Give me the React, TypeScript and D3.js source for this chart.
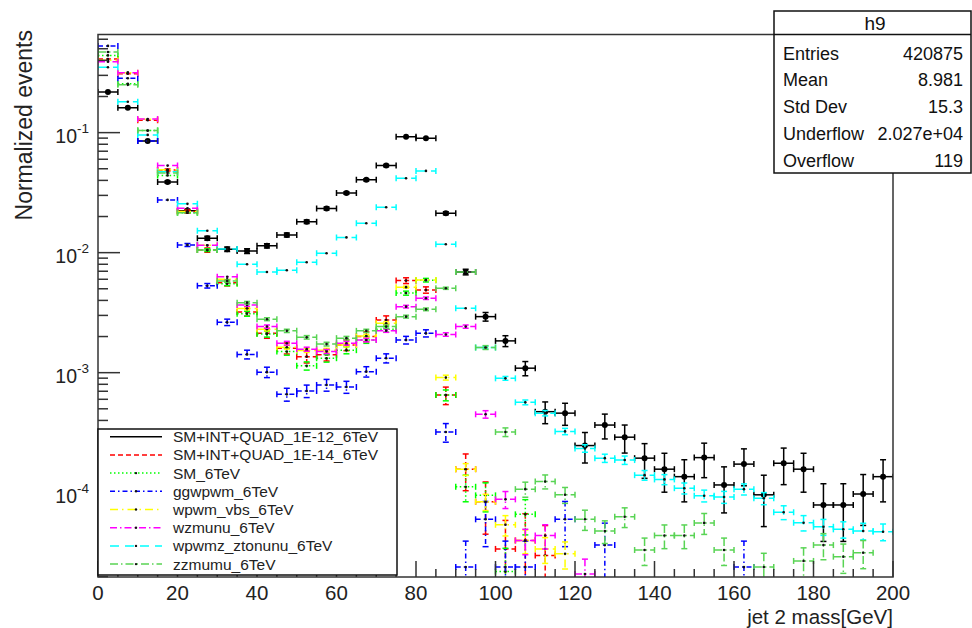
import React from 'react';
import * as d3 from 'd3';

const W = 972;
const H = 628;

// 40 bins of 5 GeV, 0..200
const binCount = 40;
const binWidth = 5;
const binCenters = Array.from({ length: binCount }, (_, i) => binWidth * i + binWidth / 2);

const xTicks = [0, 20, 40, 60, 80, 100, 120, 140, 160, 180, 200];
const yDecades = [-4, -3, -2, -1];

const quad1e12 = [0.218, 0.161, 0.0853, 0.0388, 0.0223, 0.0132, 0.01066, 0.0103, 0.0114, 0.01404, 0.0181, 0.0233, 0.0314, 0.0404, 0.0531, 0.0926, 0.0898, 0.0213, 0.0069, 0.00293, 0.00184, 0.00109, 4.73e-4, 4.6e-4, 2.47e-4, 3.66e-4, 2.9e-4, 1.94e-4, 1.57e-4, 1.36e-4, 1.96e-4, 1.16e-4, 1.73e-4, 9.6e-5, 1.76e-4, 1.57e-4, 7.9e-5, 7.9e-5, 9.75e-5, 1.36e-4];
const quad1e14 = [0.41, 0.31, 0.127, 0.0489, 0.022, 0.0105, 0.0056, 0.0032, 0.00213, 0.0016, 0.00136, 0.00141, 0.0017, 0.002, 0.00275, 0.00585, 0.00489, 6.5e-4, 1.57e-4, 8.4e-5, 3.4e-5, 4.0e-5, 3.0e-5, null, null, null, null, null, null, null, null, null, null, null, null, null, null, null, null, null];
const sm6 = [0.44, 0.255, 0.104, 0.044, 0.0215, 0.0105, 0.0055, 0.0031, 0.0021, 0.0015, 0.00114, 0.00132, 0.00154, 0.00187, 0.0023, 0.0046, 0.0059, 6.5e-4, 1.12e-4, 9.5e-5, 2.2e-5, 6.6e-5, null, null, null, null, null, null, null, null, null, null, null, null, null, null, null, null, null, null];
const ggwpwm = [0.528, 0.284, 0.085, 0.0275, 0.0116, 0.0053, 0.00263, 0.00142, 0.00101, 6.6e-4, 7.04e-4, 7.9e-4, 7.6e-4, 1.02e-3, 1.32e-3, 1.87e-3, 2.13e-3, 3.2e-4, 2.4e-5, 6.0e-5, 2.4e-5, 2.4e-5, null, 6.0e-5, null, 3.66e-5, null, null, null, null, null, null, 2.4e-5, null, null, null, null, null, null, null];
const wpwmVbs = [0.40, 0.316, 0.129, 0.049, 0.022, 0.0115, 0.006, 0.00343, 0.0023, 0.00163, 0.00153, 0.00154, 0.0017, 0.00202, 0.00258, 0.00516, 0.00592, 9.1e-4, 1.57e-4, 8.4e-5, 5.4e-5, 4.0e-5, 3.4e-5, 3.1e-5, null, null, null, null, null, null, null, null, null, null, null, null, null, null, null, null];
const wzmunu = [0.39, 0.316, 0.13, 0.0531, 0.0234, 0.0115, 0.0063, 0.00366, 0.00242, 0.00176, 0.00157, 0.0015, 0.00176, 0.00187, 0.00224, 0.00355, 0.00417, 0.00208, 0.00242, 4.5e-4, 8.8e-5, 4.0e-5, 4.4e-5, null, 2.1e-5, null, null, null, null, null, null, null, null, null, null, null, null, null, null, null];
const wpwmzZtonunu = [0.351, 0.181, 0.0957, 0.0473, 0.0255, 0.0152, 0.0107, 0.008, 0.0069, 0.00713, 0.00832, 0.00989, 0.0134, 0.0176, 0.0239, 0.0417, 0.048, 0.01175, 0.00344, 0.00162, 8.97e-4, 5.66e-4, 4.6e-4, 3.24e-4, 2.34e-4, 1.94e-4, 1.87e-4, 1.4e-4, 1.29e-4, 1.09e-4, 9.44e-5, 9.2e-5, 1.07e-4, 8.98e-5, 6.87e-5, 5.62e-5, 5.2e-5, 4.95e-5, 4.8e-5, 4.73e-5];
const zzmumu = [0.47, 0.25, 0.104, 0.046, 0.0215, 0.0105, 0.0058, 0.00383, 0.00279, 0.00223, 0.00197, 0.00173, 0.00194, 0.00223, 0.00242, 0.00293, 0.00337, 0.00505, 0.0069, 0.00162, 3.2e-4, 1.07e-4, 1.24e-4, 9.6e-5, 6.0e-5, 4.8e-5, 6.3e-5, 3.33e-5, 4.4e-5, 4.4e-5, 5.6e-5, 3.33e-5, null, 2.4e-5, null, 2.7e-5, 3.66e-5, 2.93e-5, 3.16e-5, null];

// per-entry weight of each normalized sample (error = sqrt(value * weight))
const entryWeights = [2e-5, 1.8e-5, 7e-6, 1e-5, 2e-6, 2.3e-6, 1.2e-6, 2.2e-6];

const seriesNames = ['SM+INT+QUAD_1E-12_6TeV', 'SM+INT+QUAD_1E-14_6TeV', 'SM_6TeV', 'ggwpwm_6TeV', 'wpwm_vbs_6TeV', 'wzmunu_6TeV', 'wpwmz_ztonunu_6TeV', 'zzmumu_6TeV'];
const seriesValues = [quad1e12, quad1e14, sm6, ggwpwm, wpwmVbs, wzmunu, wpwmzZtonunu, zzmumu];
const seriesColors = ['#000000', '#ff0000', '#00ff00', '#0000ff', '#ffff00', '#ff00ff', '#00ffff', '#59d454'];
const seriesDash = ['', '5,3', '1.5,2.5', '5,3,1.5,3', '8,4,1.5,4', '7,3,1.5,3', '9,6', '8,3,1.5,3'];

const statsLabels = ['Entries', 'Mean', 'Std Dev', 'Underflow', 'Overflow'];
const statsValues = ['420875', '8.981', '15.3', '2.027e+04', '119'];

const frame = { left: 98, right: 893, top: 34.5, bottom: 577 };

export default function App() {
  const x = d3.scaleLinear().domain([0, 200]).range([frame.left, frame.right]);
  const y = d3.scaleLog().domain([1.984e-5, 0.657]).range([frame.bottom, frame.top]);

  const minorY: number[] = [];
  for (let e = -5; e <= 0; e++) {
    for (let k = 2; k <= 9; k++) {
      const v = k * Math.pow(10, e);
      if (v > y.domain()[0] && v < y.domain()[1]) minorY.push(v);
    }
  }
  const minorX = d3.range(0, 201, 5).filter((v) => v % 20 !== 0);

  const font = 'Liberation Sans, Arial, Helvetica, sans-serif';
  const cap = 3;

  const marks = seriesValues.map((vals, si) => {
    const color = seriesColors[si];
    const dash = seriesDash[si] || undefined;
    const w = entryWeights[si];
    const els: React.ReactNode[] = [];
    vals.forEach((v, i) => {
      if (v == null) return;
      const c = binCenters[i];
      const x0 = x(c - binWidth / 2);
      const x1 = x(c + binWidth / 2);
      const xc = x(c);
      const yc = y(v);
      const err = Math.sqrt(v * w);
      const yHi = y(v + err);
      const lo = v - err;
      const yLo = lo > 0 ? y(lo) : frame.bottom + 10;
      const k = `${si}-${i}`;
      els.push(
        <g key={k} stroke={color} strokeWidth={1.5} strokeDasharray={dash} fill="none">
          <line x1={x0} x2={x1} y1={yc} y2={yc} />
          <line x1={x0} x2={x0} y1={yc - cap} y2={yc + cap} strokeDasharray="none" />
          <line x1={x1} x2={x1} y1={yc - cap} y2={yc + cap} strokeDasharray="none" />
          {Math.abs(yLo - yHi) > 2 && (
            <>
              <line x1={xc} x2={xc} y1={yHi} y2={yLo} />
              <line x1={xc - cap} x2={xc + cap} y1={yHi} y2={yHi} strokeDasharray="none" />
              {lo > 0 && <line x1={xc - cap} x2={xc + cap} y1={yLo} y2={yLo} strokeDasharray="none" />}
            </>
          )}
          {si === 0 ? (
            <circle cx={xc} cy={yc} r={3} fill="#000" stroke="none" />
          ) : (
            <circle cx={xc} cy={yc} r={1.3} fill="#111" stroke="none" />
          )}
        </g>
      );
    });
    return <g key={si}>{els}</g>;
  });

  const legend = { left: 98, top: 429, right: 397, bottom: 575 };
  const legendRow0 = 436.7;
  const legendStep = 18.2;

  return (
    <svg width={W} height={H} style={{ position: 'absolute', left: 0, top: 0, background: '#fff' }} fontFamily={font}>
      <rect x={0} y={0} width={W} height={H} fill="#fff" />
      <defs>
        <clipPath id="plotclip">
          <rect x={frame.left} y={frame.top} width={frame.right - frame.left} height={frame.bottom - frame.top} />
        </clipPath>
      </defs>

      <g clipPath="url(#plotclip)">{marks}</g>

      {/* frame */}
      <rect x={frame.left} y={frame.top} width={frame.right - frame.left} height={frame.bottom - frame.top} fill="none" stroke="#333" strokeWidth={1.5} />

      {/* y axis ticks */}
      {yDecades.map((e) => {
        const yy = y(Math.pow(10, e));
        return (
          <g key={`yd${e}`}>
            <line x1={frame.left} x2={frame.left + 22} y1={yy} y2={yy} stroke="#333" strokeWidth={1.5} />
            <text x={89} y={yy + 10.6} fontSize={19.5} textAnchor="end" fill="#222">
              10
              <tspan fontSize={13.5} dy={-10}>{`-${-e}`}</tspan>
            </text>
          </g>
        );
      })}
      {minorY.map((v, i) => (
        <line key={`ym${i}`} x1={frame.left} x2={frame.left + 10} y1={y(v)} y2={y(v)} stroke="#333" strokeWidth={1.5} />
      ))}

      {/* x axis ticks */}
      {xTicks.map((t) => (
        <g key={`xt${t}`}>
          <line x1={x(t)} x2={x(t)} y1={frame.bottom} y2={frame.bottom - 16} stroke="#333" strokeWidth={1.5} />
          <text x={x(t)} y={599.5} fontSize={20.5} textAnchor="middle" fill="#222">{t}</text>
        </g>
      ))}
      {minorX.map((t) => (
        <line key={`xm${t}`} x1={x(t)} x2={x(t)} y1={frame.bottom} y2={frame.bottom - 8} stroke="#333" strokeWidth={1.5} />
      ))}

      {/* axis titles */}
      <text x={frame.right} y={623.5} fontSize={20.5} textAnchor="end" fill="#222">jet 2 mass[GeV]</text>
      <text transform={`translate(31.5, 30) rotate(-90)`} fontSize={23} textAnchor="end" fill="#222">Normalized events</text>

      {/* legend */}
      <rect x={legend.left} y={legend.top} width={legend.right - legend.left} height={legend.bottom - legend.top} fill="#fff" stroke="#111" strokeWidth={1.5} />
      {seriesNames.map((name, i) => {
        const yy = legendRow0 + i * legendStep;
        return (
          <g key={`lg${i}`}>
            <line x1={110} x2={162} y1={yy} y2={yy} stroke={seriesColors[i]} strokeWidth={1.5} strokeDasharray={seriesDash[i] || undefined} />
            {i >= 2 && <circle cx={136} cy={yy} r={1.2} fill="#111" />}
            <text x={173} y={yy + 5.5} fontSize={15.5} fill="#222">{name}</text>
          </g>
        );
      })}

      {/* stats box */}
      <rect x={774} y={11} width={197} height={162} fill="#fff" stroke="#111" strokeWidth={1.5} />
      <line x1={774} x2={971} y1={34.5} y2={34.5} stroke="#111" strokeWidth={1.5} />
      <text x={875} y={29.5} fontSize={19} textAnchor="middle" fill="#111">h9</text>
      {statsLabels.map((lab, i) => {
        const yy = 53 + i * 26.8 + 6.5;
        return (
          <g key={`st${i}`}>
            <text x={783} y={yy} fontSize={18} fill="#111">{lab}</text>
            <text x={963} y={yy} fontSize={18} textAnchor="end" fill="#111">{statsValues[i]}</text>
          </g>
        );
      })}
    </svg>
  );
}
